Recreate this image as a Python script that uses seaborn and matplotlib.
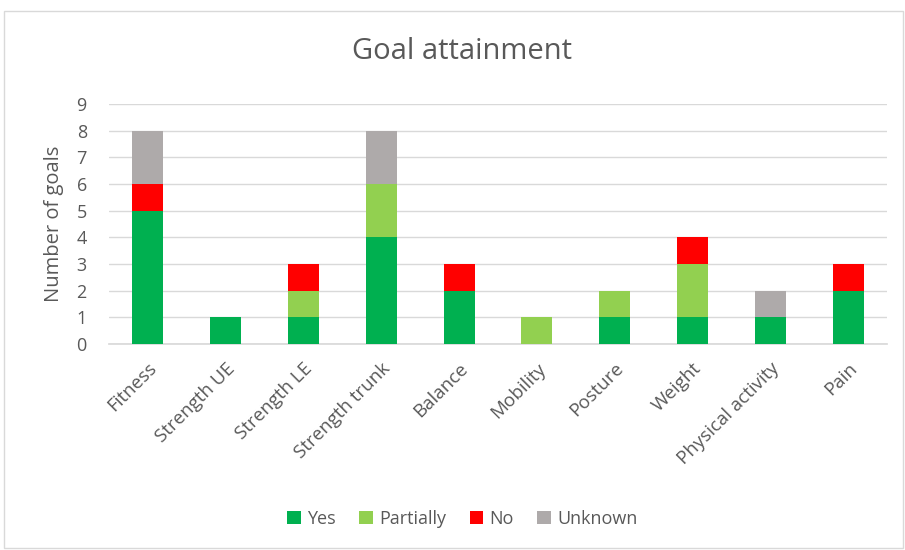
import numpy as np
import pandas as pd
import matplotlib
matplotlib.use("Agg")
import matplotlib.pyplot as plt
import seaborn as sns
from matplotlib.patches import Rectangle

categories = ["Fitness", "Strength UE", "Strength LE", "Strength trunk", "Balance",
              "Mobility", "Posture", "Weight", "Physical activity", "Pain"]
yes = [5, 1, 1, 4, 2, 0, 1, 1, 1, 2]
partially = [0, 0, 1, 2, 0, 1, 1, 2, 0, 0]
no = [1, 0, 1, 0, 1, 0, 0, 1, 0, 1]
unknown = [2, 0, 0, 2, 0, 0, 0, 0, 1, 0]
series_names = ["Yes", "Partially", "No", "Unknown"]
colors = ["#00B050", "#92D050", "#FF0000", "#AEAAAA"]
yticks = list(range(0, 10))

sns.set_theme(style="white")
plt.rcParams['font.family'] = ['Open Sans', 'DejaVu Sans']
text_color = "#595959"

fig = plt.figure(figsize=(9.05, 5.5), dpi=100)
ax = fig.add_axes([109/905, 1-344/550, (887-109)/905, (344-104)/550])

fig.patches.append(Rectangle((4/905, 2/550), 899/905, 537/550, transform=fig.transFigure,
                             fill=False, edgecolor="#D9D9D9", linewidth=1))

bottom = np.zeros(len(categories))
for name, vals, c in zip(series_names, [yes, partially, no, unknown], colors):
    df = pd.DataFrame({"cat": categories, "val": vals})
    sns.barplot(data=df, x="cat", y="val", bottom=bottom, color=c, width=0.4,
                ax=ax, label=name, saturation=1, linewidth=0, zorder=3)
    bottom = bottom + np.array(vals)

ax.set_ylim(0, 9)
ax.set_xlim(-0.5, len(categories) - 0.5)
ax.set_yticks(yticks)
ax.set_yticklabels([str(t) for t in yticks], fontsize=13, color=text_color)
ax.yaxis.grid(True, color="#D9D9D9", linewidth=1, zorder=0)
ax.set_axisbelow(True)
for s in ["top", "right", "left"]:
    ax.spines[s].set_visible(False)
ax.spines["bottom"].set_color("#D9D9D9")
ax.tick_params(axis="y", length=0, pad=16)
ax.tick_params(axis="x", length=0, pad=11)
ax.set_xticks(range(len(categories)))
ax.set_xticklabels(categories, rotation=45, ha="right", rotation_mode="anchor",
                   fontsize=13.5, color=text_color)
ax.set_xlabel("")
ax.set_ylabel("Number of goals", fontsize=14.5, color=text_color, labelpad=9)

fig.text(0.511, 1-52/550, "Goal attainment", ha="center", va="center",
         fontsize=21, color=text_color)

handles, labels = ax.get_legend_handles_labels()
leg = fig.legend(handles, labels, loc="center", bbox_to_anchor=(0.511, 1-519/550),
                 ncol=4, frameon=False, fontsize=13, handlelength=0.75, handleheight=0.75,
                 handletextpad=0.35, columnspacing=1.3)
for t in leg.get_texts():
    t.set_color(text_color)
if ax.get_legend() is not None:
    ax.get_legend().remove()

fig.savefig("out.png", dpi=100)
